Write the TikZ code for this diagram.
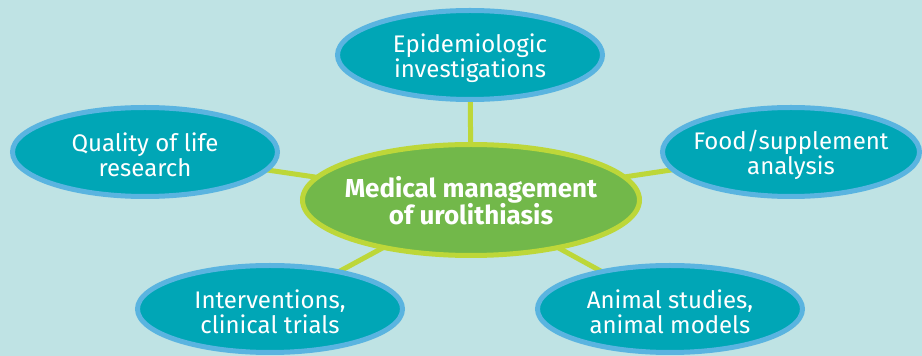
\documentclass[tikz,border=0pt]{standalone}
\usepackage{fontspec}
\setmainfont{Fira Sans}
\usetikzlibrary{shapes.geometric}
\definecolor{bgc}{RGB}{191,227,228}
\definecolor{tealfill}{RGB}{0,166,182}
\definecolor{blueedge}{RGB}{90,180,224}
\definecolor{greenfill}{RGB}{114,184,74}
\definecolor{limec}{RGB}{189,215,57}
\pgfdeclarelayer{bg}
\pgfdeclarelayer{back}
\pgfsetlayers{back,bg,main}
\tikzset{
  outer/.style={ellipse, draw=blueedge, fill=tealfill, line width=5pt, inner sep=0pt,
    minimum width=265pt, minimum height=89pt,
    label={[outertxt]center:#1}},
  outertxt/.style={text=white, align=center, inner sep=0pt, yshift=-3pt,
    font=\fontsize{24}{25}\selectfont},
  center/.style={ellipse, draw=limec, fill=greenfill, line width=5pt, inner sep=0pt,
    minimum width=337pt, minimum height=111pt,
    label={[centertxt]center:#1}},
  centertxt/.style={text=white, align=center, inner sep=0pt, yshift=-1pt,
    font=\fontsize{26}{27}\selectfont\bfseries},
  link/.style={draw=limec, line width=5pt}
}
\begin{document}
\begin{tikzpicture}[x=1pt,y=1pt]
\begin{pgfonlayer}{back}
\fill[bgc] (0,0) rectangle (922,356);
\end{pgfonlayer}
\useasboundingbox (0,0) rectangle (922,356);
\node[center={Medical management\\of urolithiasis}] (c) at (471,156) {};
\node[outer={Epidemiologic\\investigations}] (t) at (470,301) {};
\node[outer={Quality of life\\research}] (l) at (145,204) {};
\node[outer={Food/supplement\\analysis}, minimum width=257pt] (r) at (791,204) {};
\node[outer={Interventions,\\clinical trials}, minimum height=87pt] (bl) at (270,47) {};
\node[outer={Animal studies,\\animal models}, minimum height=87pt] (br) at (670,47) {};
\begin{pgfonlayer}{bg}
\draw[link] (c.center) -- (t.center);
\draw[link] (c.center) -- (l.center);
\draw[link] (c.center) -- (r.center);
\draw[link] (c.center) -- (bl.center);
\draw[link] (c.center) -- (br.center);
\end{pgfonlayer}
\end{tikzpicture}
\end{document}
